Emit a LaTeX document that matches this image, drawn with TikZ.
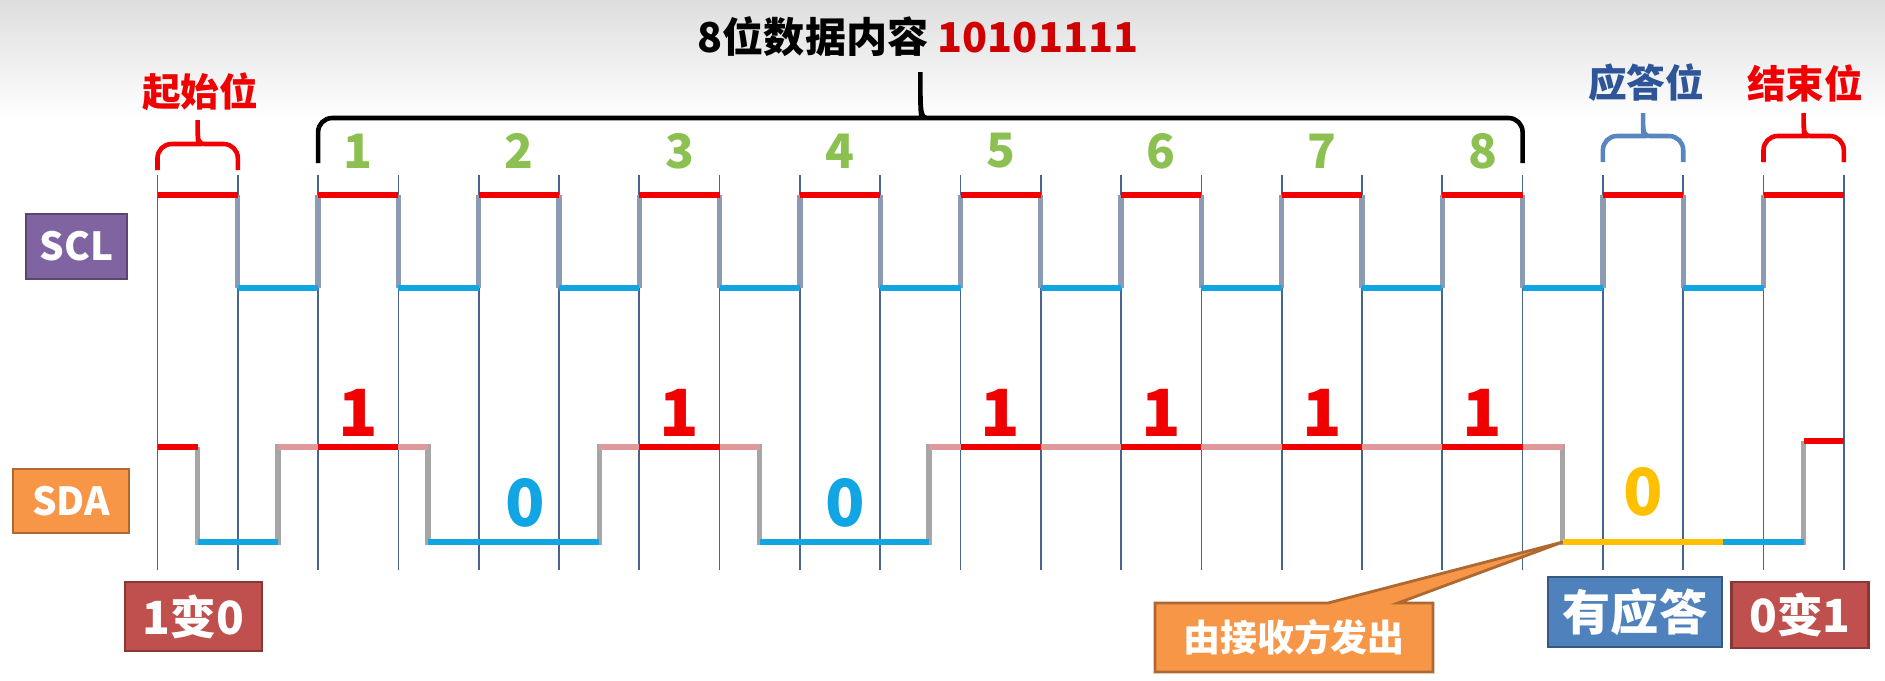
\documentclass[tikz,border=0pt]{standalone}
\usepackage{fontspec}
\setmainfont{Noto Sans CJK SC}
\usepackage{tikz}
\usetikzlibrary{calc,shapes.callouts}
\definecolor{hiColor}{HTML}{F00000}
\definecolor{loColor}{HTML}{12A5E3}
\definecolor{idleColor}{HTML}{DE9A9A}
\definecolor{ackColor}{HTML}{FFC000}
\definecolor{edgeColor}{HTML}{A6A6A6}
\definecolor{clkEdgeColor}{HTML}{8C9BB2}
\definecolor{gridColor}{HTML}{46658F}
\definecolor{bitColor}{HTML}{8CC152}
\definecolor{titleRed}{HTML}{D10000}
\definecolor{sclColor}{HTML}{8064A2}
\definecolor{sdaColor}{HTML}{F79646}
\definecolor{redBox}{HTML}{C0504D}
\definecolor{blueBox}{HTML}{4F81BD}
\definecolor{ackText}{HTML}{2E5597}
\definecolor{braceBlue}{HTML}{5A86C0}
\newcommand{\fsz}[1]{\bfseries\fontsize{#1}{#1}\selectfont}
\newcommand{\topbrace}[6][black]{%
	\draw[#1, line width=1.3pt] (#2,#4) [rounded corners=4pt] -- (#2,#5) -- ({(#2+#3)/2-0.1},#5) [sharp corners]
	.. controls ({(#2+#3)/2},#5) .. ({(#2+#3)/2},#6)
	.. controls ({(#2+#3)/2},#5) .. ({(#2+#3)/2+0.1},#5) [rounded corners=4pt] -- (#3,#5) -- (#3,#4);}
\tikzset{
	sig/.style={line width=1.5pt},
	tag/.style={draw=#1!70!black, fill=#1, line width=0.8pt, text=white, inner sep=0pt},
	bitnum/.style={text=bitColor, font=\fsz{13.5}},
	bitval/.style={text=#1, font=\fsz{18.5}},
	caption/.style={text=#1, font=\fsz{11}}
}

\begin{document}
\begin{tikzpicture}
	\useasboundingbox (0,0) rectangle (18.85,-6.8);
	\shade[top color=black!13, bottom color=white] (0,0) rectangle (18.85,-1.2);
	% grid and levels
	\foreach \i in {0,...,21} \coordinate (g\i) at ({1.575+0.803*\i},0);
	\foreach \i in {0,...,20} \coordinate (m\i) at ({1.575+0.803*(\i+0.5)},0);
	\coordinate (m3) at (4.28,0);
	\coordinate (m9) at (9.29,0);
	\coordinate (sclH) at (0,-1.95);
	\coordinate (sclL) at (0,-2.88);
	\coordinate (sdaH) at (0,-4.47);
	\coordinate (sdaL) at (0,-5.42);
	\coordinate (stopH) at (0,-4.41);
	\coordinate (gridTop) at (0,-1.75);
	\coordinate (gridBot) at (0,-5.70);
	\foreach \i in {0,...,21} \draw[gridColor, line width=0.5pt] (g\i |- gridTop) -- (g\i |- gridBot);

	\node[font=\fsz{11.7}] (title) at (9.18,-0.37) {8位数据内容 \textcolor{titleRed}{10101111}};
	\topbrace{3.181}{15.226}{-1.63}{-1.18}{-0.72}
	\topbrace[hiColor]{1.575}{2.378}{-1.70}{-1.44}{-1.20}
	\topbrace[braceBlue]{16.029}{16.832}{-1.62}{-1.36}{-1.13}
	\topbrace[hiColor]{17.635}{18.438}{-1.62}{-1.36}{-1.13}
	\node[caption=hiColor] (startLbl) at (2.0,-0.92) {起始位};
	\node[caption=ackText] (ackLbl) at (16.46,-0.83) {应答位};
	\node[caption=hiColor] (stopLbl) at (18.05,-0.83) {结束位};
	\foreach \n in {1,...,8} \node[bitnum] (num\n) at ({1.9765+1.606*\n},-1.51) {\n};

	% SCL
	\foreach \a in {1,...,20} \draw[sig, clkEdgeColor] (g\a |- sclH) -- (g\a |- sclL);
	\foreach \a [evaluate=\a as \b using int(\a+1)] in {0,2,...,20} \draw[sig, hiColor] (g\a |- sclH) -- (g\b |- sclH);
	\foreach \a [evaluate=\a as \b using int(\a+1)] in {1,3,...,19} \draw[sig, loColor] (g\a |- sclL) -- (g\b |- sclL);

	% SDA
	\draw[sig, edgeColor] (m0 |- sdaH) -- (m0 |- sdaL) -- (m1 |- sdaL) -- (m1 |- sdaH) -- (m3 |- sdaH) -- (m3 |- sdaL)
		-- (m5 |- sdaL) -- (m5 |- sdaH) -- (m7 |- sdaH) -- (m7 |- sdaL) -- (m9 |- sdaL) -- (m9 |- sdaH)
		-- (m17 |- sdaH) -- (m17 |- sdaL) -- (m20 |- sdaL) -- (m20 |- stopH);
	\draw[sig, idleColor] (m1 |- sdaH) -- (m3 |- sdaH) (m5 |- sdaH) -- (m7 |- sdaH) (m9 |- sdaH) -- (m17 |- sdaH);
	\draw[sig, hiColor] (g0 |- sdaH) -- (m0 |- sdaH);
	\foreach \a/\b in {2/3,6/7,10/11,12/13,14/15,16/17} \draw[sig, hiColor] (g\a |- sdaH) -- (g\b |- sdaH);
	\draw[sig, loColor] (m0 |- sdaL) -- (m1 |- sdaL) (m3 |- sdaL) -- (m5 |- sdaL) (m7 |- sdaL) -- (m9 |- sdaL) (m19 |- sdaL) -- (m20 |- sdaL);
	\draw[sig, ackColor] (m17 |- sdaL) -- (m19 |- sdaL);
	\draw[sig, hiColor] (m20 |- stopH) -- (g21 |- stopH);
	\coordinate (ackFall) at (m17 |- sdaL);

	\foreach \n in {1,3,5,6,7,8} \node[bitval=hiColor] (one\n) at ({1.9765+1.606*\n},-4.13) {1};
	\node[bitval=loColor] (zero2) at (5.25,-5.03) {0};
	\node[bitval=loColor] (zero4) at (8.45,-5.03) {0};
	\node[bitval=ackColor] (ackZero) at (16.43,-4.92) {0};

	% tags
	\node[tag=sclColor, minimum width=1.01cm, minimum height=0.65cm, font=\fsz{11}] (scl) at (0.765,-2.465) {SCL};
	\node[tag=sdaColor, minimum width=1.16cm, minimum height=0.64cm, font=\fsz{11}] (sda) at (0.71,-5.01) {SDA};
	\node[tag=redBox, minimum width=1.37cm, minimum height=0.69cm, font=\fsz{13}] (startTag) at (1.935,-6.165) {1变0};
	\node[tag=blueBox, minimum width=1.74cm, minimum height=0.70cm, font=\fsz{13.7}] (ackTag) at (16.35,-6.12) {有应答};
	\node[tag=redBox, minimum width=1.37cm, minimum height=0.66cm, font=\fsz{13}] (stopTag) at (18.0,-6.15) {0变1};
	\node[tag=sdaColor, rectangle callout, callout absolute pointer={(ackFall)}, callout pointer width=0.7cm,
		minimum width=2.78cm, minimum height=0.69cm, font=\fsz{10.5}] (recvTag) at (12.94,-6.375) {由接收方发出};
\end{tikzpicture}
\end{document}
